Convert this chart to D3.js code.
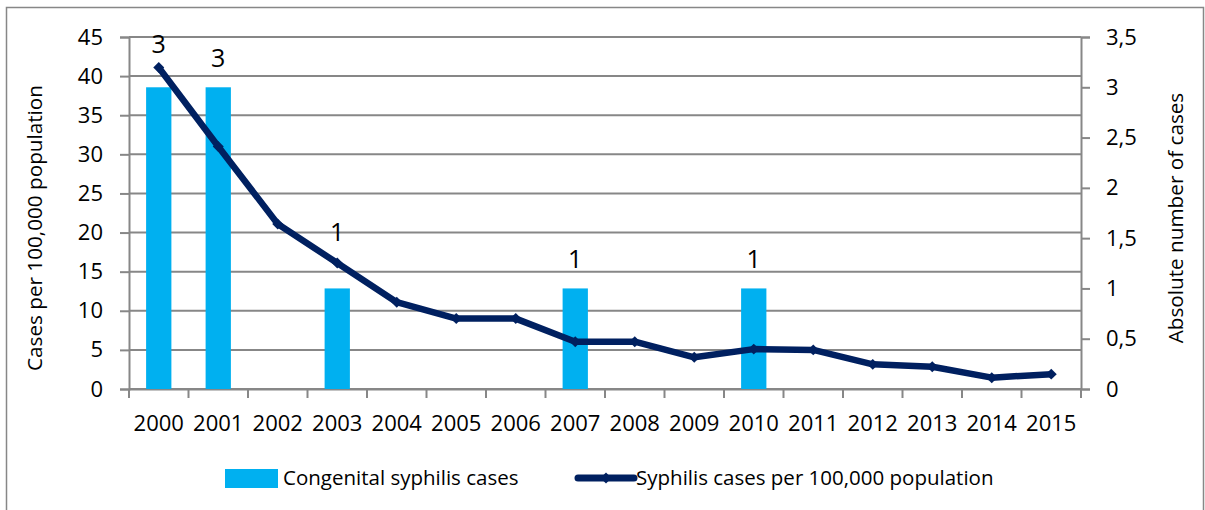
<!DOCTYPE html>
<html><head><meta charset="utf-8">
<script src="https://cdn.jsdelivr.net/npm/d3@7"></script>
<style>
body{margin:0;background:#fff;}
svg text{font-family:"Open Sans",Calibri,sans-serif;fill:#000;}
</style></head>
<body>
<svg id="chart" width="1205" height="510"></svg>
<script>
const years = ["2000","2001","2002","2003","2004","2005","2006","2007","2008","2009","2010","2011","2012","2013","2014","2015"];
const congenitalCases = [3,3,null,1,null,null,null,1,null,null,1,null,null,null,null,null];
const syphilisRate = [41.1,31.0,21.1,16.1,11.1,9.0,9.0,6.05,6.05,4.05,5.1,5.0,3.15,2.85,1.45,1.9];
const leftTicks = [0,5,10,15,20,25,30,35,40,45];
const rightTicks = [0,0.5,1,1.5,2,2.5,3,3.5];
const labelLift = {"2000":14,"2003":27};

const svg = d3.select("#chart");
const m = {left:129, right:1081, top:37, bottom:389};
const gridColor = "#878787";

svg.append("rect").attr("x",6.5).attr("y",7.5).attr("width",1197).attr("height",520)
  .attr("fill","none").attr("stroke",gridColor).attr("stroke-width",1.5);

const x = d3.scaleBand().domain(years).range([m.left,m.right]).paddingInner(0).paddingOuter(0);
const yL = d3.scaleLinear().domain([0,45]).range([m.bottom,m.top]);
const yR = d3.scaleLinear().domain([0,3.5]).range([m.bottom,m.top]);

// gridlines
svg.append("g").selectAll("line").data(leftTicks).join("line")
  .attr("x1",m.left).attr("x2",m.right).attr("y1",d=>yL(d)).attr("y2",d=>yL(d))
  .attr("stroke",gridColor).attr("stroke-width",2);

// left axis
const gL = svg.append("g").attr("transform",`translate(${m.left},0)`)
  .call(d3.axisLeft(yL).tickValues(leftTicks).tickSize(9).tickPadding(17).tickFormat(d3.format("d")));
gL.selectAll("path,line").attr("stroke",gridColor).attr("stroke-width",2);
gL.selectAll("text").attr("font-size",22).attr("font-family","Open Sans");

// right axis
const fmtR = d => String(d).replace(".",",");
const gR = svg.append("g").attr("transform",`translate(${m.right},0)`)
  .call(d3.axisRight(yR).tickValues(rightTicks).tickSize(9).tickPadding(16).tickFormat(fmtR));
gR.selectAll("path,line").attr("stroke",gridColor).attr("stroke-width",2);
gR.selectAll("text").attr("font-size",22).attr("font-family","Open Sans");

// bottom axis
const gB = svg.append("g").attr("transform",`translate(0,${m.bottom})`)
  .call(d3.axisBottom(x).tickSize(0).tickPadding(26));
gB.selectAll("path").attr("stroke",gridColor).attr("stroke-width",2);
gB.selectAll("text").attr("font-size",22).attr("font-family","Open Sans");
// category boundary ticks
const bounds = years.map(d=>x(d)).concat([m.right]);
svg.append("g").selectAll("line").data(bounds).join("line")
  .attr("x1",d=>d).attr("x2",d=>d).attr("y1",m.bottom).attr("y2",m.bottom+9)
  .attr("stroke",gridColor).attr("stroke-width",2);

// bars
const bw = x.bandwidth()*0.425;
const barData = years.map((y,i)=>({y,v:congenitalCases[i]})).filter(d=>d.v!=null);
svg.append("g").selectAll("rect").data(barData).join("rect")
  .attr("x",d=>x(d.y)+x.bandwidth()/2-bw/2).attr("width",bw)
  .attr("y",d=>yR(d.v)).attr("height",d=>yR(0)-yR(d.v))
  .attr("fill","#00B0F0");

// line
const lineColor = "#002060";
const line = d3.line().x((d,i)=>x(years[i])+x.bandwidth()/2).y(d=>yL(d));
svg.append("path").datum(syphilisRate).attr("d",line)
  .attr("fill","none").attr("stroke",lineColor).attr("stroke-width",6.5).attr("stroke-linejoin","round");
svg.append("g").selectAll("path").data(syphilisRate).join("path")
  .attr("d",d3.symbol(d3.symbolSquare,60))
  .attr("transform",(d,i)=>`translate(${x(years[i])+x.bandwidth()/2},${yL(d)}) rotate(45)`)
  .attr("fill",lineColor);

// bar labels
svg.append("g").selectAll("text").data(barData).join("text")
  .attr("x",d=>x(d.y)+x.bandwidth()/2).attr("y",d=>yR(d.v)-20-(labelLift[d.y]||0))
  .attr("text-anchor","middle").attr("font-size",25).text(d=>d.v);

// axis titles
svg.append("text").attr("transform",`translate(42,228) rotate(-90)`)
  .attr("text-anchor","middle").attr("font-size",20.7).text("Cases per 100,000 population");
svg.append("text").attr("transform",`translate(1183,218) rotate(-90)`)
  .attr("text-anchor","middle").attr("font-size",20.7).text("Absolute number of cases");

// legend
svg.append("rect").attr("x",225).attr("y",469).attr("width",53).attr("height",19).attr("fill","#00B0F0");
svg.append("text").attr("x",283).attr("y",485).attr("font-size",20.5).text("Congenital syphilis cases");
svg.append("line").attr("x1",578).attr("x2",634).attr("y1",478).attr("y2",478)
  .attr("stroke",lineColor).attr("stroke-width",7).attr("stroke-linecap","round");
svg.append("path").attr("transform","translate(606,478) rotate(45)")
  .attr("d",d3.symbol(d3.symbolSquare,60)).attr("fill",lineColor);
svg.append("text").attr("x",636).attr("y",485).attr("font-size",20.5).text("Syphilis cases per 100,000 population");
</script>
</body></html>
